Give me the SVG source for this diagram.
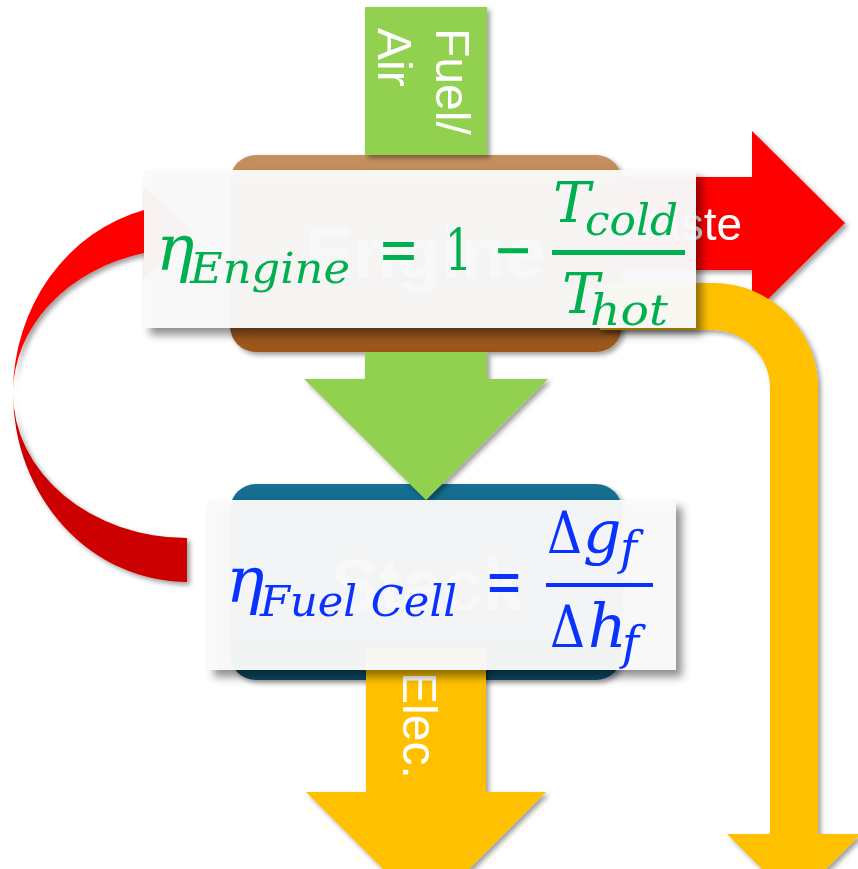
<svg xmlns="http://www.w3.org/2000/svg" width="858" height="869" viewBox="0 0 858 869">
  <defs>
    <style>
      .label { font-family: "Liberation Sans", Arial, sans-serif; fill: #ffffff; }
      .big { font-family: "Liberation Sans", Arial, sans-serif; font-weight: bold; fill: #ffffff; text-anchor: middle; }
      .math { font-family: "DejaVu Serif", "Liberation Serif", serif; font-style: italic; }
      .up { font-family: "DejaVu Serif", "Liberation Serif", serif; font-style: normal; }
      .green { fill: #00b050; }
      .blue { fill: #0a32ff; }
      .card { fill: #fafafa; fill-opacity: 0.96; }
    </style>
    <linearGradient id="brown" x1="0" y1="0" x2="0" y2="1">
      <stop offset="0" stop-color="#c4915f"/>
      <stop offset="1" stop-color="#9c5518"/>
    </linearGradient>
    <linearGradient id="teal" x1="0" y1="0" x2="0" y2="1">
      <stop offset="0" stop-color="#146f92"/>
      <stop offset="1" stop-color="#0d4964"/>
    </linearGradient>
    <filter id="soft" x="-20%" y="-20%" width="140%" height="140%">
      <feDropShadow dx="3" dy="3" stdDeviation="2.5" flood-color="#000" flood-opacity="0.38"/>
    </filter>
    <filter id="cardShadow" x="-20%" y="-20%" width="140%" height="150%">
      <feDropShadow dx="6" dy="7" stdDeviation="4" flood-color="#000" flood-opacity="0.45"/>
    </filter>
  </defs>

  <rect width="858" height="869" fill="#ffffff"/>

  <!-- process blocks -->
  <g id="stack">
    <rect x="230" y="484" width="392" height="196" rx="26" fill="url(#teal)" filter="url(#soft)"/>
    <text class="big" x="427" y="610" font-size="72">Stack</text>
  </g>
  <g id="engine">
    <rect x="230" y="155" width="392" height="197" rx="26" fill="url(#brown)" filter="url(#soft)"/>
    <text class="big" x="425" y="278" font-size="72">Engine</text>
  </g>

  <!-- flows between blocks -->
  <g id="connectors" filter="url(#soft)">
    <!-- fuel / air feed -->
    <g id="fuel-air">
      <rect x="365" y="7" width="122" height="148" fill="#92d050"/>
      <text class="label" font-size="48" transform="rotate(90)"><tspan x="28" y="-436">Fuel/</tspan><tspan x="28" y="-378">Air</tspan></text>
    </g>
    <!-- engine exhaust into stack -->
    <path id="engine-to-stack" d="M365 352 L487 352 L487 379 L548 379 L426 500 L304 379 L365 379 Z" fill="#92d050"/>
    <!-- waste heat -->
    <g id="waste">
      <path d="M622 177 L752 177 L752 131 L845 223 L752 315 L752 270 L622 270 Z" fill="#ff0000"/>
      <text class="label" x="742" y="240" font-size="46" text-anchor="end">Waste</text>
    </g>
    <!-- recovered heat routed down -->
    <path id="heat" d="M600 283 L713 283 A105 105 0 0 1 818 388 L818 834 L861 834 L794 901 L727 834 L770 834 L770 388 A58 58 0 0 0 713 330 L600 330 Z" fill="#ffc000"/>
    <!-- recirculation loop from stack back to engine -->
    <g id="recycle">
      <path d="M144 210 A174 189 0 0 0 13 393 A174 145 0 0 1 144 253 Z" fill="#ff0000"/>
      <path d="M13 393 A174 189 0 0 0 187 582 L187 538 A174 145 0 0 1 13 393 Z" fill="#cc0000"/>
      <path d="M144 186 L190 232 L144 278 Z" fill="#ff0000"/>
    </g>
    <!-- electrical output -->
    <g id="elec">
      <path d="M366 648 L486 648 L486 792 L546 792 L426 912 L306 792 L366 792 Z" fill="#ffc000"/>
      <text class="label" font-size="48" transform="rotate(90)" x="672" y="-403">Elec.</text>
    </g>
  </g>

  <!-- efficiency equations -->
  <g id="engine-efficiency">
    <rect class="card" x="144" y="170" width="552" height="158" filter="url(#cardShadow)"/>
    <text class="math green" x="156" y="270" font-size="64">η</text>
    <text class="math green" x="190" y="283" font-size="43" textLength="160" lengthAdjust="spacingAndGlyphs">Engine</text>
    <text class="up green" x="378" y="271" font-size="64" textLength="41" lengthAdjust="spacingAndGlyphs">=</text>
    <text class="up green" x="445" y="270" font-size="58" textLength="27" lengthAdjust="spacingAndGlyphs">1</text>
    <text class="up green" x="493" y="271" font-size="64" textLength="40" lengthAdjust="spacingAndGlyphs">−</text>
    <rect x="552" y="250" width="133" height="5" fill="#00b050"/>
    <text class="math green" x="553" y="222" font-size="56">T</text>
    <text class="math green" x="585" y="235" font-size="43" textLength="93" lengthAdjust="spacingAndGlyphs">cold</text>
    <text class="math green" x="562" y="313" font-size="56">T</text>
    <text class="math green" x="590" y="325" font-size="43" textLength="78" lengthAdjust="spacingAndGlyphs">hot</text>
  </g>

  <g id="stack-efficiency">
    <rect class="card" x="208" y="500" width="468" height="170" filter="url(#cardShadow)"/>
    <text class="math blue" x="226" y="602" font-size="64">η</text>
    <text class="math blue" x="260" y="616" font-size="43" textLength="197" lengthAdjust="spacingAndGlyphs">Fuel Cell</text>
    <text class="up blue" x="485" y="603" font-size="64" textLength="38" lengthAdjust="spacingAndGlyphs">=</text>
    <rect x="546" y="583" width="107" height="4" fill="#0a32ff"/>
    <text class="up blue" x="547" y="553" font-size="58" textLength="35" lengthAdjust="spacingAndGlyphs">Δ</text>
    <text class="math blue" x="583" y="553" font-size="60">g</text>
    <text class="math blue" x="620" y="564" font-size="46">f</text>
    <text class="up blue" x="550" y="647" font-size="58" textLength="35" lengthAdjust="spacingAndGlyphs">Δ</text>
    <text class="math blue" x="588" y="647" font-size="60">h</text>
    <text class="math blue" x="622" y="659" font-size="46">f</text>
  </g>
</svg>
